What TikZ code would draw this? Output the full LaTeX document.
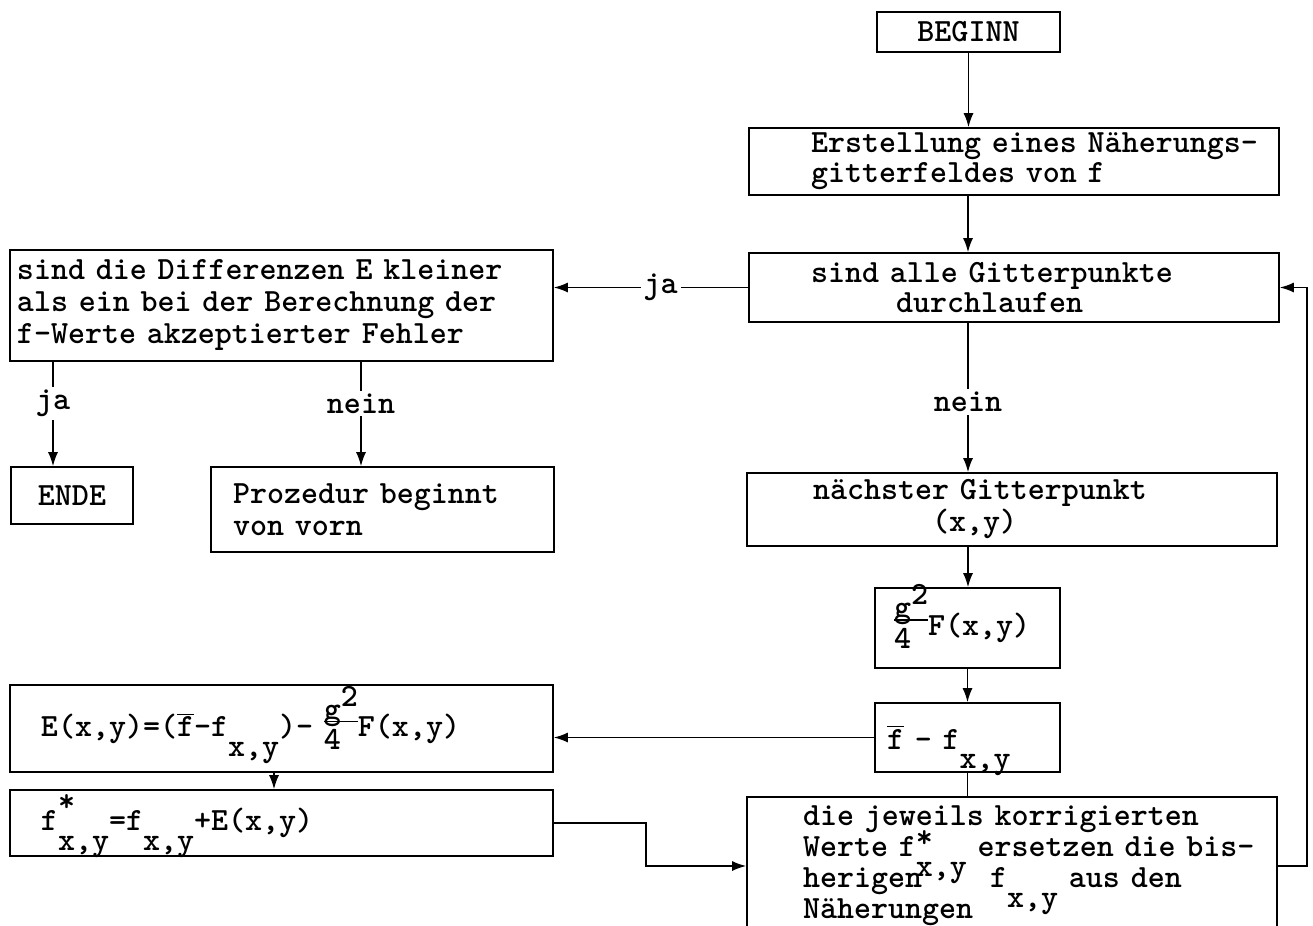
\documentclass[tikz,border=0pt]{standalone}
\usepackage{tikz}
\usetikzlibrary{arrows.meta}

\newcommand{\typew}{\ttfamily\bfseries\fontsize{16.2pt}{16pt}\selectfont}
\newcommand{\lowtxt}[1]{\smash{\raisebox{-0.6em}{#1}}}
\newcommand{\hilow}[3][0.6em]{\rlap{\smash{\raisebox{#1}{#2}}}\lowtxt{#3}}
\newcommand{\fquer}{\ensuremath{\overline{\mbox{f}}}}
\newcommand{\gquart}{\smash{\rlap{\raisebox{0.55em}{g}}\rlap{\raisebox{0.95em}{\phantom{g}2}}%
  \rlap{\raisebox{-0.4em}{4}}\rule[0.45em]{1.05em}{0.8pt}}}

\begin{document}
\begin{tikzpicture}[x=0.5pt,y=-0.5pt,line width=0.8pt,
  >={Latex[length=7pt,width=5pt]},
  every node/.style={font=\typew},
  box/.style={draw,inner xsep=0pt,inner ysep=0pt,align=left},
  lab/.style={fill=white,inner sep=1.5pt}]
  \useasboundingbox (0,0) rectangle (1313,926);
  % columns of the vertical connectors
  \coordinate (spine) at (968,0);
  \coordinate (colja) at (53,0);
  \coordinate (colnein) at (361,0);
  \coordinate (colE) at (274,0);
  \coordinate (kink) at (646,0);
  \coordinate (rail) at (1307,0);
  % right column
  \node[box,align=center,minimum width=91.5pt,minimum height=20pt] (begin) at (968.5,32) {BEGINN};
  \node[box,text width=265pt,minimum height=33.5pt] (erst) at (1014,161.5)
    {\leftskip=31pt \baselineskip=15pt Erstellung eines Näherungs-\\gitterfeldes von f\par};
  \node[box,text width=265pt,minimum height=34.5pt] (alle) at (1014,287.5)
    {\leftskip=31pt \baselineskip=15pt sind alle Gitterpunkte\\\phantom{xxxxx}durchlaufen\par};
  \node[box,text width=265pt,minimum height=36.5pt] (next) at (1012,509.5)
    {\leftskip=33pt nächster Gitterpunkt\\\phantom{xxxxxxx}(x,y)\par};
  \node[box,text width=92.5pt,minimum height=40pt] (gf) at (967.5,628)
    {\leftskip=9.5pt \gquart F(x,y)\par};
  \node[box,text width=92.5pt,minimum height=34.5pt] (fq) at (967.5,737.5)
    {\leftskip=6pt \fquer{} - f\lowtxt{x,y}\par};
  \node[box,text width=265pt,minimum height=69pt] (jew) at (1012,866)
    {\leftskip=28pt \baselineskip=15.5pt die jeweils korrigierten\\
     Werte~f\hilow[0.3em]{*}{x,y}~ersetzen~die~bis-\\
     herigen\phantom{xxxx}f\lowtxt{x,y} aus den\\
     Näherungen\par};
  % left column
  \node[box,text width=271.5pt,minimum height=55.5pt] (diff) at (281.5,305.5)
    {\leftskip=3.5pt sind die Differenzen E kleiner\\als ein bei der Berechnung der\\f-Werte akzeptierter Fehler\par};
  \node[box,align=center,minimum width=61pt,minimum height=28.5pt] (ende) at (72,495.5) {ENDE};
  \node[box,text width=171.5pt,minimum height=42.5pt] (proz) at (382.5,509.5)
    {\leftskip=11pt Prozedur beginnt\\von vorn\par};
  \node[box,text width=271.5pt,minimum height=43.5pt] (E) at (281.5,728.5)
    {\leftskip=15.5pt E(x,y)=(\fquer-f\lowtxt{x,y})- \gquart F(x,y)\par};
  \node[box,text width=271.5pt,minimum height=33pt] (fs) at (281.5,823)
    {\leftskip=15.5pt f\hilow{*}{x,y}=f\lowtxt{x,y}+E(x,y)\par};
  % connectors
  \draw[->] (begin.south) -- (begin.south |- erst.north);
  \draw[->] (erst.south -| spine) -- (alle.north -| spine);
  \draw[->] (alle.south -| spine) -- node[lab,pos=0.53] {nein} (next.north -| spine);
  \draw[->] (alle.west) -- node[lab,pos=0.45] {ja} (alle.west -| diff.east);
  \draw[->] (diff.south -| colja) -- node[lab,pos=0.4] {ja} (ende.north -| colja);
  \draw[->] (diff.south -| colnein) -- node[lab,pos=0.4] {nein} (proz.north -| colnein);
  \draw[->] (next.south -| spine) -- (gf.north -| spine);
  \draw[->] (gf.south) -- (fq.north);
  \draw[->] (fq.west) -- (fq.west -| E.east);
  \draw[->] (E.south -| colE) -- (fs.north -| colE);
  \draw (fq.south) -- (fq.south |- jew.north);
  \draw[->] (fs.east) -- (fs.east -| kink) -- (kink |- jew.west) -- (jew.west);
  \draw[->] (jew.east) -- (jew.east -| rail) -- (rail |- alle.east) -- (alle.east);
\end{tikzpicture}
\end{document}
